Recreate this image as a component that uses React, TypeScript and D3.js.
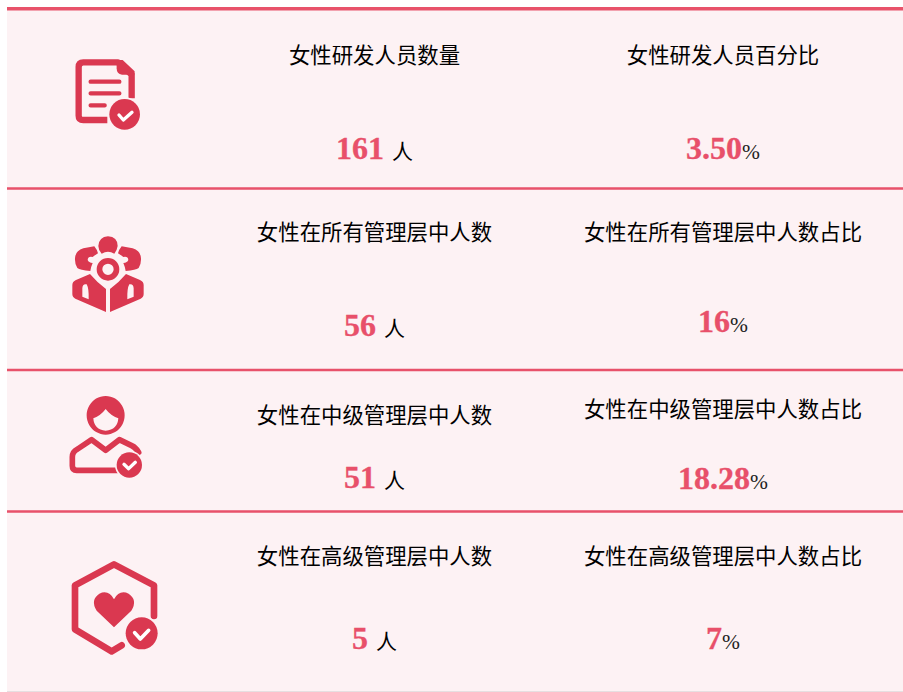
import * as d3 from 'd3';

const countLabels = ['女性研发人员数量', '女性在所有管理层中人数', '女性在中级管理层中人数', '女性在高级管理层中人数'];
const shareLabels = ['女性研发人员百分比', '女性在所有管理层中人数占比', '女性在中级管理层中人数占比', '女性在高级管理层中人数占比'];
const counts = ['161', '56', '51', '5'];
const shares = ['3.50', '16', '18.28', '7'];
const rows = [0, 1, 2, 3];

const WIDTH = 903;
const HEIGHT = 692;
const RED = '#da3850';
const PINK = '#e8506a';
const BG = '#fdf2f4';
const CJK = '"Noto Sans CJK SC", sans-serif';
const SERIF = '"Liberation Serif", serif';

// rows are not evenly spaced in the picture, so the y scales are ordinal
const rowTop = d3.scaleOrdinal<number, number>().domain(rows).range([8.5, 188.5, 370, 511.5]);
const countLabelY = d3.scaleOrdinal<number, number>().domain(rows).range([62.5, 239.5, 422.5, 563.5]);
const shareLabelY = d3.scaleOrdinal<number, number>().domain(rows).range([62.5, 239.5, 416.5, 563.5]);
const countY = d3.scaleOrdinal<number, number>().domain(rows).range([159, 336, 488, 649]);
const shareY = d3.scaleOrdinal<number, number>().domain(rows).range([159, 331.5, 488.5, 649]);
const colX = { count: 374.5, share: 723 };

const Check = ({ cx, cy, r, d, w }: { cx: number; cy: number; r: number; d: string; w: number }) => (
  <>
    <circle cx={cx} cy={cy} r={r} fill={RED} stroke={BG} strokeWidth={w} paintOrder="stroke" />
    <path d={d} fill="none" stroke="#fff" strokeWidth={w} strokeLinecap="round" strokeLinejoin="round" />
  </>
);

// icons are drawn in the coordinates of a 3x crop, hence the scale(1/3)
const DocIcon = () => (
  <g transform="scale(0.3333)">
    <path
      d="M322,360 H250 Q236,360 236,347 V201 Q236,187 250,187 H354 L395,224 V295"
      fill="none"
      stroke={RED}
      strokeWidth={19}
      strokeLinejoin="round"
    />
    <path d="M350,180 L368,180 L404,214 L404,224 L366,224 Q350,222 350,205 Z" fill={RED} />
    <path d="M272,245 H358 M272,280 H358 M272,316 H314" stroke={RED} strokeWidth={13} strokeLinecap="round" fill="none" />
    <Check cx={374} cy={343} r={46} d="M357,345 L370,360 L396,337" w={10} />
  </g>
);

const TeamIcon = () => {
  const shoulder =
    'M105,115 Q106,92 130,85 L163,79 Q172,90 174,100 Q164,106 158,111 Q144,108 143,120 Q146,128 158,129 Q153,140 151,153 Q120,150 112,144 Q104,132 105,115 Z';
  const body =
    'M97,195 Q97,185 108,180 L150,162 Q170,186 198,207 V276 L106,236 Q97,232 97,222 Z M127,230 L146,238 Q147,205 140,193 Q128,190 127,205 Z';
  return (
    <g transform="translate(40,220) scale(0.3333)">
      <path d="M204,49 Q233,51 233,78 Q231,92 223,101 Q204,90 185,101 Q175,90 175,78 Q177,51 204,49 Z" fill={RED} />
      <circle cx={204} cy={148} r={25.5} fill="none" stroke={RED} strokeWidth={17} />
      <path d={shoulder} fill={RED} />
      <path d={shoulder} fill={RED} transform="translate(408,0) scale(-1,1)" />
      <path d={body} fill={RED} fillRule="evenodd" />
      <path d={body} fill={RED} fillRule="evenodd" transform="translate(408,0) scale(-1,1)" />
    </g>
  );
};

const PersonIcon = () => (
  <g transform="translate(40,385) scale(0.3333)">
    <path
      d="M197,33 A57,58 0 1 1 196.9,33 Z M160,100 Q182,92 197,72 Q212,92 235,100 Q233,134 197,137 Q162,134 160,100 Z"
      fill={RED}
      fillRule="evenodd"
    />
    <path
      d="M232,256 H110 Q97,256 97,242 V216 Q97,200 113,192 L155,164 L197,196 L238,164 L275,182 Q288,188 296,202"
      fill="none"
      stroke={RED}
      strokeWidth={17}
      strokeLinejoin="round"
      strokeLinecap="round"
    />
    <Check cx={268} cy={240} r={38} d="M252,238 L266,251 L286,232" w={10} />
  </g>
);

const HeartIcon = () => (
  <g transform="translate(40,550) scale(0.3333)">
    <path
      d="M342,198 V106 L222,43 L105,106 V238 L215,304 L245,286"
      fill="none"
      stroke={RED}
      strokeWidth={20}
      strokeLinejoin="round"
      strokeLinecap="round"
    />
    <path d="M222,232 L170,182 Q150,150 178,131 Q206,118 222,148 Q238,118 266,131 Q294,150 274,182 Z" fill={RED} />
    <Check cx={305} cy={250} r={48} d="M284,248 L301,267 L326,241" w={11} />
  </g>
);

export default function App() {
  return (
    <div style={{ position: 'fixed', left: 0, top: 0 }}>
      <svg width={WIDTH} height={HEIGHT} style={{ display: 'block' }}>
        <rect width={WIDTH} height={HEIGHT} fill="#fff" />
        <rect x={7} y={7} width={WIDTH - 7} height={HEIGHT - 7} fill={BG} />
        <rect x={7} y={691} width={WIDTH - 7} height={1} fill="#e6dfe1" />

        {rows.map((i) => (
          <rect key={i} x={7} y={rowTop(i) - (i === 0 ? 1.5 : 1.25)} width={WIDTH - 7} height={i === 0 ? 3.5 : 2.5} fill="#e8526a" />
        ))}

        <DocIcon />
        <TeamIcon />
        <PersonIcon />
        <HeartIcon />

        {rows.map((i) => (
          <g key={i} textAnchor="middle">
            <text x={colX.count} y={countLabelY(i)} fontFamily={CJK} fontSize={21.4} fill="#000">
              {countLabels[i]}
            </text>
            <text x={colX.share} y={shareLabelY(i)} fontFamily={CJK} fontSize={21.4} fill="#000">
              {shareLabels[i]}
            </text>
            <text x={colX.count} y={countY(i)}>
              <tspan fontFamily={SERIF} fontSize={32} fontWeight="bold" fill={PINK} stroke={PINK} strokeWidth={0.3}>
                {counts[i]}
              </tspan>
              <tspan dx={8} fontFamily={CJK} fontSize={21} fill="#000">
                人
              </tspan>
            </text>
            <text x={colX.share} y={shareY(i)}>
              <tspan fontFamily={SERIF} fontSize={32} fontWeight="bold" fill={PINK} stroke={PINK} strokeWidth={0.3}>
                {shares[i]}
              </tspan>
              <tspan fontFamily={SERIF} fontSize={21.5} fill="#222">
                %
              </tspan>
            </text>
          </g>
        ))}
      </svg>
    </div>
  );
}
